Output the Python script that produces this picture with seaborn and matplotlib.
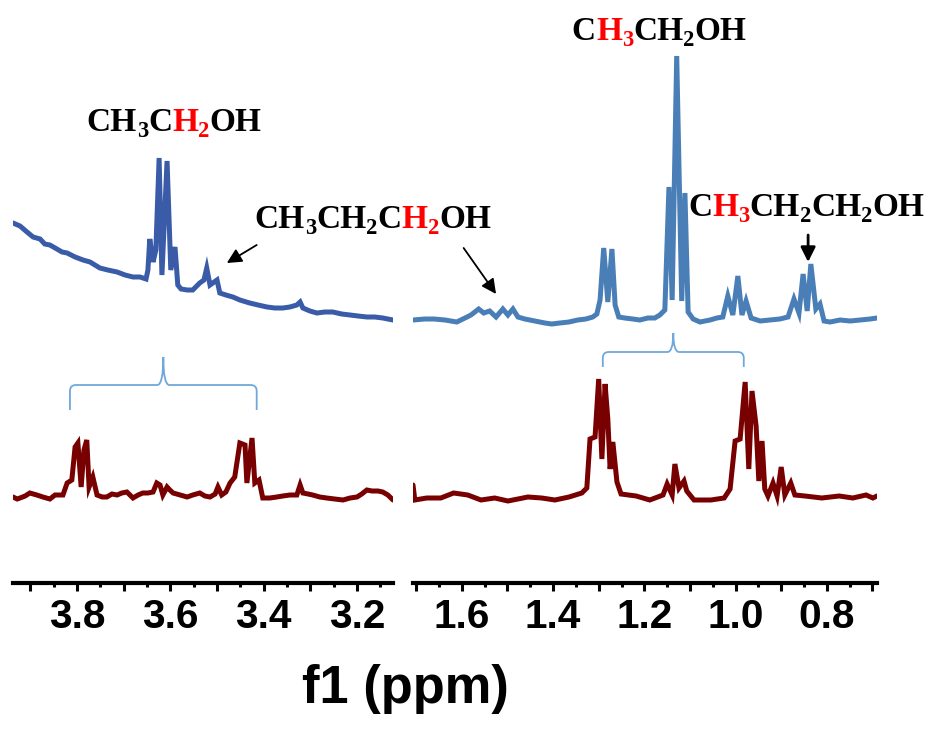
import numpy as np
import pandas as pd
import matplotlib
matplotlib.use("Agg")
import matplotlib.pyplot as plt
import matplotlib.transforms as mtransforms
from matplotlib import font_manager
from matplotlib.path import Path
from matplotlib.patches import PathPatch
from matplotlib.ticker import MultipleLocator, FuncFormatter
import seaborn as sns

# ---- spectra: chemical shift (ppm) and intensity above each trace's baseline (a.u.) ----
# high-field window 3.9 - 3.1 ppm, upper trace
ppm_hi_top = [3.937, 3.922, 3.907, 3.894, 3.879, 3.869, 3.858, 3.843, 3.832, 3.821,
              3.804, 3.787, 3.772, 3.751, 3.734, 3.714, 3.697, 3.680, 3.665, 3.652,
              3.648, 3.644, 3.637, 3.631, 3.624, 3.618, 3.607, 3.599, 3.590, 3.584,
              3.577, 3.564, 3.552, 3.537, 3.528, 3.522, 3.515, 3.509, 3.500, 3.494,
              3.481, 3.466, 3.451, 3.430, 3.412, 3.393, 3.376, 3.359, 3.344, 3.329,
              3.322, 3.316, 3.301, 3.286, 3.269, 3.252, 3.233, 3.215, 3.198, 3.179,
              3.162, 3.145, 3.123]
int_hi_top = [97, 94, 88, 83, 81, 76, 75, 71, 68, 67,
              63, 60, 58, 52, 50, 48, 45, 43, 43, 41,
              50, 81, 58, 70, 162, 45, 159, 50, 73, 35,
              31, 30, 30, 37, 40, 52, 35, 37, 40, 27,
              25, 23, 20, 17, 15, 13, 12, 12, 13, 15,
              18, 12, 9, 7, 8, 8, 6, 5, 4, 3,
              3, 2, 0]

# high-field window, lower trace
ppm_hi_bot = [3.937, 3.928, 3.922, 3.911, 3.901, 3.886, 3.873, 3.858, 3.847, 3.830,
              3.821, 3.811, 3.804, 3.798, 3.791, 3.785, 3.779, 3.774, 3.766, 3.757,
              3.746, 3.736, 3.725, 3.714, 3.704, 3.693, 3.680, 3.669, 3.659, 3.648,
              3.637, 3.629, 3.622, 3.616, 3.607, 3.601, 3.594, 3.579, 3.564, 3.552,
              3.537, 3.526, 3.515, 3.504, 3.498, 3.490, 3.481, 3.472, 3.462, 3.451,
              3.440, 3.436, 3.425, 3.419, 3.410, 3.402, 3.387, 3.372, 3.359, 3.344,
              3.329, 3.322, 3.316, 3.305, 3.295, 3.280, 3.265, 3.248, 3.230, 3.215,
              3.200, 3.190, 3.179, 3.168, 3.155, 3.145, 3.134, 3.123]
int_hi_bot = [-1, -3, -2, 0, 3, 1, -1, -3, 1, 1,
              13, 16, 49, 53, 9, 46, 56, 9, 19, 1,
              -1, -1, 2, 1, 3, 4, -2, 1, 3, 3,
              4, 13, 11, 1, 9, 6, 3, 1, -1, 1,
              3, 0, -1, 2, 9, 1, 4, 13, 19, 53,
              51, 13, 58, 13, 16, -2, -2, -1, 0, 1,
              1, 11, 3, 2, 1, -1, -2, -3, -4, -2,
              -1, 2, 6, 5, 5, 4, 1, -4]

# low-field window 1.7 - 0.7 ppm, upper trace
ppm_lo_top = [1.707, 1.681, 1.661, 1.637, 1.611, 1.593, 1.580, 1.563, 1.552, 1.539,
              1.525, 1.510, 1.499, 1.488, 1.477, 1.462, 1.440, 1.418, 1.403, 1.385,
              1.365, 1.346, 1.328, 1.313, 1.304, 1.297, 1.289, 1.280, 1.271, 1.264,
              1.256, 1.243, 1.225, 1.210, 1.192, 1.177, 1.166, 1.155, 1.146, 1.139,
              1.129, 1.118, 1.111, 1.104, 1.093, 1.078, 1.056, 1.041, 1.028, 1.017,
              1.006, 0.995, 0.986, 0.977, 0.966, 0.946, 0.925, 0.903, 0.885, 0.872,
              0.861, 0.852, 0.843, 0.835, 0.824, 0.815, 0.806, 0.793, 0.771, 0.749,
              0.727, 0.705, 0.690]
int_lo_top = [0, 1, 1, 0, -2, 2, 5, 11, 7, 9,
              3, 11, 5, 11, 3, 1, -1, -3, -4, -3,
              -2, 0, 1, 3, 6, 20, 72, 18, 71, 15,
              3, 2, 1, 0, 2, 2, 5, 10, 133, 20,
              264, 19, 127, 8, 1, -2, 0, 2, 3, 24,
              5, 44, 5, 19, 2, -1, 0, 1, 3, 21,
              7, 46, 9, 56, 11, 16, -1, -2, 0, -1,
              0, 1, 2]

# low-field window, lower trace
ppm_lo_bot = [1.707, 1.703, 1.677, 1.646, 1.618, 1.587, 1.558, 1.528, 1.499, 1.455,
              1.425, 1.396, 1.365, 1.337, 1.326, 1.319, 1.308, 1.300, 1.293, 1.286,
              1.280, 1.275, 1.269, 1.260, 1.251, 1.218, 1.188, 1.159, 1.150, 1.139,
              1.133, 1.124, 1.113, 1.107, 1.091, 1.054, 1.025, 1.012, 1.001, 0.990,
              0.979, 0.971, 0.964, 0.955, 0.949, 0.942, 0.936, 0.929, 0.918, 0.909,
              0.900, 0.892, 0.879, 0.870, 0.848, 0.811, 0.773, 0.743, 0.714, 0.699,
              0.690]
int_lo_bot = [12, -3, -1, -1, 4, 2, -3, -1, -4, 0,
              -1, -3, 0, 4, 9, 58, 60, 118, 38, 113,
              78, 28, 55, 15, 3, 1, -3, 2, 13, 2,
              33, 9, 16, 6, -3, -3, -1, 8, 56, 58,
              115, 28, 106, 71, 16, 56, 8, 1, 14, 1,
              30, 2, 14, 2, 1, -1, 1, -1, 2, -1,
              1]

# labelled ticks on each window
ticks_hi = [3.8, 3.6, 3.4, 3.2]
ticks_lo = [1.6, 1.4, 1.2, 1.0, 0.8]
x_label = "f1 (ppm)"

# ---- style ----
W, H = 931, 729
AX_BOTTOM_PX = 583          # spine position from the top of the figure
TOP_BASE, BOT_BASE_HI, BOT_BASE_LO = 263, 87, 86   # vertical stacking offsets
BLUE_HI, BLUE_LO, DARK_RED = "#3A5CA8", "#4A7EB6", "#780000"
BRACE_BLUE = "#6FA8DC"
RED = "#FF0000"

sns.set_theme(style="white")
plt.rcParams["font.family"] = ["Liberation Sans", "DejaVu Sans"]
plt.rcParams["font.weight"] = "bold"

# condensed sans for the axis text when available
_installed = {f.name for f in font_manager.fontManager.ttflist}
if "Liberation Sans Narrow" in _installed:
    AXIS_FONT, AXIS_SCALE = "Liberation Sans Narrow", 1.0
else:
    AXIS_FONT, AXIS_SCALE = "Liberation Sans", 0.86

fig = plt.figure(figsize=(W / 100, H / 100), dpi=100)
fig.patch.set_facecolor("white")
ax_hi = fig.add_axes([13 / W, (H - AX_BOTTOM_PX) / H, 380 / W, AX_BOTTOM_PX / H])
ax_lo = fig.add_axes([413 / W, (H - AX_BOTTOM_PX) / H, 464 / W, AX_BOTTOM_PX / H])


def trace(ax, ppm, inten, base, color):
    df = pd.DataFrame({"ppm": ppm, "signal": np.asarray(inten, float) + base})
    sns.lineplot(data=df, x="ppm", y="signal", ax=ax, color=color, lw=3.6,
                 estimator=None, sort=False, solid_joinstyle="miter")


trace(ax_hi, ppm_hi_top, int_hi_top, TOP_BASE, BLUE_HI)
trace(ax_hi, ppm_hi_bot, int_hi_bot, BOT_BASE_HI, DARK_RED)
trace(ax_lo, ppm_lo_top, int_lo_top, TOP_BASE, BLUE_LO)
trace(ax_lo, ppm_lo_bot, int_lo_bot, BOT_BASE_LO, DARK_RED)


def style_axis(ax, xlim, labelled):
    ax.set_xlim(*xlim)
    ax.set_ylim(0, AX_BOTTOM_PX)
    ax.set_xlabel("")
    ax.set_ylabel("")
    ax.set_yticks([])
    ax.patch.set_alpha(0)
    for side in ("left", "right", "top"):
        ax.spines[side].set_visible(False)
    ax.spines["bottom"].set_linewidth(3.0)
    ax.spines["bottom"].set_color("black")
    ax.xaxis.set_major_locator(MultipleLocator(0.1))
    ax.xaxis.set_minor_locator(MultipleLocator(0.05))
    ax.xaxis.set_major_formatter(FuncFormatter(
        lambda v, p: f"{v:.1f}" if any(abs(v - t) < 1e-6 for t in labelled) else ""))
    ax.tick_params(axis="x", which="major", bottom=True, direction="out",
                   length=6, width=2.2, pad=5, labelsize=34 * AXIS_SCALE,
                   labelfontfamily=AXIS_FONT, colors="black")
    ax.tick_params(axis="x", which="minor", bottom=True, direction="out",
                   length=3.2, width=2.2, colors="black")


style_axis(ax_hi, (3.937, 3.123), ticks_hi)
style_axis(ax_lo, (1.707, 0.690), ticks_lo)

fig.text(405 / W, 1 - 703 / H, x_label, ha="center", va="baseline",
         fontsize=44 * AXIS_SCALE, fontweight="bold", family=AXIS_FONT,
         color="black")


# ---- braces linking the split signals ----
def brace(ax, x0, x1, y_end, y_bar, y_tip, rx, ry):
    xm = (x0 + x1) / 2
    d = np.sign(x1 - x0)
    verts = [(x0, y_end), (x0, y_bar - ry), (x0, y_bar), (x0 + d * rx, y_bar),
             (xm - d * rx, y_bar), (xm, y_bar), (xm, y_tip),
             (xm, y_bar), (xm + d * rx, y_bar),
             (x1 - d * rx, y_bar), (x1, y_bar), (x1, y_bar - ry), (x1, y_end)]
    codes = [Path.MOVETO, Path.LINETO, Path.CURVE3, Path.CURVE3,
             Path.LINETO, Path.CURVE3, Path.CURVE3,
             Path.CURVE3, Path.CURVE3,
             Path.LINETO, Path.CURVE3, Path.CURVE3, Path.LINETO]
    ax.add_patch(PathPatch(Path(verts, codes), fill=False, ec=BRACE_BLUE,
                           lw=1.3, clip_on=False))


brace(ax_hi, 3.815, 3.415, 173, 198, 226, 0.013, 6)
brace(ax_lo, 1.291, 0.982, 216, 231, 250, 0.013, 6)


# ---- chemical formula labels with highlighted protons ----
def formula(ax, x, y, parts, size=24):
    renderer = fig.canvas.get_renderer()
    px, py = ax.transData.transform((x, y))
    for text, color, sub in parts:
        fs = size * 0.68 if sub else size
        dy = -6 if sub else 0
        t = fig.text(px, py + dy, text, transform=mtransforms.IdentityTransform(),
                     fontsize=fs, color=color, fontweight="bold",
                     family=["Liberation Serif", "DejaVu Serif"],
                     ha="left", va="baseline")
        px += t.get_window_extent(renderer).width


K = "black"
formula(ax_hi, 3.779, 452, [("CH", K, 0), ("3", K, 1), ("C", K, 0),
                            ("H", RED, 0), ("2", RED, 1), ("OH", K, 0)])
formula(ax_hi, 3.419, 355, [("CH", K, 0), ("3", K, 1), ("CH", K, 0), ("2", K, 1),
                            ("C", K, 0), ("H", RED, 0), ("2", RED, 1), ("OH", K, 0)])
formula(ax_lo, 1.359, 543, [("C", K, 0), ("H", RED, 0), ("3", RED, 1),
                            ("CH", K, 0), ("2", K, 1), ("OH", K, 0)])
formula(ax_lo, 1.104, 367, [("C", K, 0), ("H", RED, 0), ("3", RED, 1),
                            ("CH", K, 0), ("2", K, 1), ("CH", K, 0), ("2", K, 1),
                            ("OH", K, 0)])

# ---- arrows pointing at the propanol signals ----
arrow = dict(arrowstyle="-|>", color="black", lw=1.3, mutation_scale=22,
             shrinkA=0, shrinkB=0)
ax_hi.annotate("", xy=(3.479, 320), xytext=(3.415, 338), arrowprops=arrow,
               annotation_clip=False)
ax_lo.annotate("", xy=(1.525, 289), xytext=(1.596, 335), arrowprops=arrow,
               annotation_clip=False)
ax_lo.annotate("", xy=(0.841, 321), xytext=(0.841, 348),
               arrowprops=dict(arrow, lw=2.0), annotation_clip=False)

fig.savefig("out.png", dpi=100, facecolor="white")
